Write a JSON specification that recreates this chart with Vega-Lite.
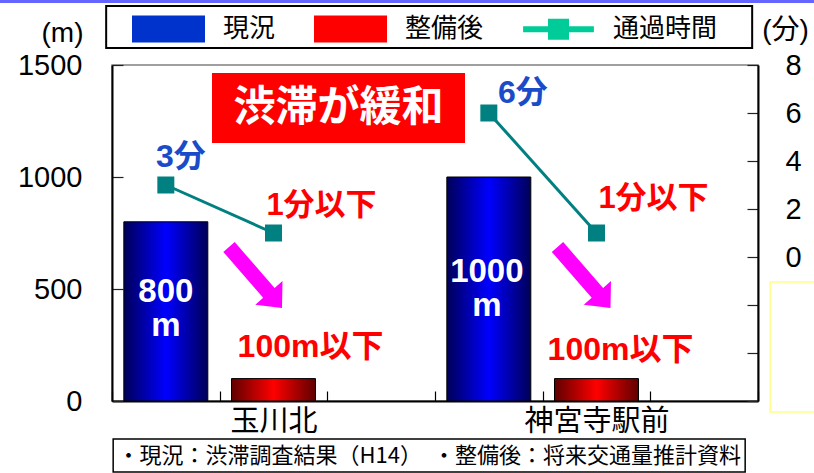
{
  "$schema": "https://vega.github.io/schema/vega-lite/v6.json",
  "width": 646,
  "height": 336,
  "autosize": "none",
  "padding": {"left": 112, "top": 65, "right": 56, "bottom": 72},
  "background": "white",
  "config": {
    "view": {"stroke": "#808080", "strokeWidth": 1.5},
    "axis": {"domainColor": "black", "domainWidth": 2, "tickColor": "#222222", "tickWidth": 1.2, "labelColor": "black", "titleColor": "black", "grid": false}
  },
  "datasets": {
    "bars": [
      {"key": "玉川北 現況", "site": "玉川北", "status": "現況", "length": 800, "minutes": 3},
      {"key": "玉川北 整備後", "site": "玉川北", "status": "整備後", "length": 100, "minutes": 1},
      {"key": "神宮寺駅前 現況", "site": "神宮寺駅前", "status": "現況", "length": 1000, "minutes": 6},
      {"key": "神宮寺駅前 整備後", "site": "神宮寺駅前", "status": "整備後", "length": 100, "minutes": 1}
    ],
    "one": [{"n": 1}]
  },
  "data": {"name": "bars"},
  "layer": [
    {
      "layer": [
        {
          "transform": [{"filter": "datum.status === '現況'"}],
          "mark": {"type": "bar", "width": {"band": 0.78}, "stroke": "black", "strokeWidth": 1,
            "fill": {"gradient": "linear", "x1": 0, "y1": 0, "x2": 1, "y2": 0, "stops": [{"offset": 0, "color": "#000058"}, {"offset": 0.5, "color": "#0000ff"}, {"offset": 1, "color": "#000058"}]}},
          "encoding": {
            "x": {"field": "key", "type": "nominal", "scale": {"domain": ["玉川北 現況", "玉川北 整備後", "玉川北 -", "神宮寺駅前 現況", "神宮寺駅前 整備後", "神宮寺駅前 -"], "paddingInner": 0, "paddingOuter": 0},
              "axis": {"title": null, "labelAngle": 0, "ticks": true, "tickBand": "extent", "tickSize": -10, "tickColor": "black", "labelPadding": 16, "labelFont": "Noto Sans CJK JP", "labelFontSize": 29, "labelBaseline": "top", "labelExpr": "indexof(datum.label, '整備後') >= 0 ? split(datum.label, ' ')[0] : ''"}},
            "y": {"field": "length", "type": "quantitative", "scale": {"domain": [0, 1500], "nice": false},
              "axis": {"orient": "left", "values": [0, 500, 1000, 1500], "format": "d", "tickSize": -11, "labelPadding": 41, "labelFont": "Liberation Sans", "labelFontSize": 29, "labelBaseline": "middle", "title": "(m)", "titleAngle": 0, "titleX": -50, "titleY": -32, "titleAlign": "center", "titleBaseline": "middle", "titleFont": "Liberation Sans", "titleFontSize": 28, "titleFontWeight": "normal"}}
          }
        },
        {
          "transform": [{"filter": "datum.status === '整備後'"}],
          "mark": {"type": "bar", "width": {"band": 0.78}, "stroke": "black", "strokeWidth": 1,
            "fill": {"gradient": "linear", "x1": 0, "y1": 0, "x2": 1, "y2": 0, "stops": [{"offset": 0, "color": "#600000"}, {"offset": 0.5, "color": "#ff0000"}, {"offset": 1, "color": "#600000"}]}},
          "encoding": {
            "x": {"field": "key", "type": "nominal"},
            "y": {"field": "length", "type": "quantitative"}
          }
        },
        {
          "mark": {"type": "point", "opacity": 0, "size": 1, "filled": true},
          "encoding": {
            "x": {"field": "key", "type": "nominal"},
            "y": {"field": "length", "type": "quantitative"},
            "color": {
              "field": "status", "type": "nominal",
              "scale": {"domain": ["現況", "整備後", "通過時間"], "range": ["#0033cc", "#ff0000", "#00cc99"]},
              "legend": {
                "orient": "none", "legendX": 20, "legendY": -73, "direction": "horizontal", "title": null, "padding": 0,
                "symbolSize": 5329, "symbolType": "M-1,-0.37H1V0.37H-1Z", "symbolStrokeWidth": 0,
                "labelFont": "Noto Sans CJK JP", "labelFontSize": 26, "labelColor": "black", "labelOffset": 18, "columnPadding": 38, "labelLimit": 200,
                "encode": {
                  "symbols": {
                    "update": {
                      "shape": {"signal": "datum.value === '通過時間' ? 'M-0.97,-0.082H0.97V0.082H-0.97Z M-0.288,-0.288H0.288V0.288H-0.288Z' : 'M-1,-0.37H1V0.37H-1Z'"},
                      "fill": {"signal": "datum.value === '現況' ? {gradient: 'linear', x1: 0, y1: 0, x2: 1, y2: 0, stops: [{offset: 0, color: '#0a1464'}, {offset: 0.5, color: '#0033cc'}, {offset: 0.85, color: '#0033cc'}, {offset: 1, color: '#001a80'}]} : datum.value === '整備後' ? {gradient: 'linear', x1: 0, y1: 0, x2: 1, y2: 0, stops: [{offset: 0, color: '#800000'}, {offset: 0.6, color: '#ff0000'}, {offset: 1, color: '#7a0000'}]} : '#00cc99'"},
                      "opacity": {"value": 1},
                      "fillOpacity": {"value": 1},
                      "stroke": {"value": "transparent"}
                    }
                  }
                }
              }
            }
          }
        },
        {
          "data": {"name": "one"},
          "mark": {"type": "point", "shape": "M-1,-0.0037H1V0.0037H-1Z", "size": 662596, "filled": true, "color": "#6464ff", "strokeWidth": 0, "opacity": 1, "xOffset": 25.8, "yOffset": -63.5},
          "encoding": {"x": {"datum": "玉川北 -", "type": "nominal"}, "y": {"datum": 1500, "type": "quantitative"}}
        },
        {
          "data": {"name": "one"},
          "mark": {"type": "point", "shape": "M-1,-0.065H1V0.065H-1Z", "size": 417316, "filled": false, "color": "black", "strokeWidth": 2, "opacity": 1, "xOffset": 48, "yOffset": -38},
          "encoding": {"x": {"datum": "玉川北 -", "type": "nominal"}, "y": {"datum": 1500, "type": "quantitative"}}
        },
        {
          "data": {"name": "one"},
          "mark": {"type": "point", "shape": "M-1,-0.0522H1V0.0522H-1Z", "size": 399424, "filled": true, "fill": "white", "stroke": "black", "strokeWidth": 1.5, "opacity": 1, "xOffset": 48, "yOffset": 54.5},
          "encoding": {"x": {"datum": "玉川北 -", "type": "nominal"}, "y": {"datum": 0, "type": "quantitative"}}
        },
        {
          "data": {"name": "one"},
          "mark": {"type": "text", "text": "・現況：渋滞調査結果（H14）　・整備後：将来交通量推計資料", "font": "Noto Sans CJK JP", "fontSize": 22, "color": "black", "align": "center", "baseline": "middle", "dx": 48, "dy": 55},
          "encoding": {"x": {"datum": "玉川北 -", "type": "nominal"}, "y": {"datum": 0, "type": "quantitative"}}
        },
        {
          "data": {"name": "one"},
          "mark": {"type": "point", "shape": "M-1,-0.2767H1V0.2767H-1Z", "size": 64009, "filled": true, "color": "#ff0000", "strokeWidth": 0, "opacity": 1, "xOffset": 65},
          "encoding": {"x": {"datum": "玉川北 整備後", "type": "nominal"}, "y": {"datum": 1308, "type": "quantitative"}}
        },
        {
          "data": {"name": "one"},
          "mark": {"type": "text", "text": "渋滞が緩和", "font": "Noto Sans CJK JP", "fontSize": 42, "fontWeight": "bold", "color": "white", "align": "center", "baseline": "middle", "dx": 65},
          "encoding": {"x": {"datum": "玉川北 整備後", "type": "nominal"}, "y": {"datum": 1308, "type": "quantitative"}}
        },
        {
          "data": {"name": "one"},
          "mark": {"type": "point", "shape": "M-0.509,-0.938L0.665,0.412L0.897,0.209L0.882,1L0.097,0.903L0.329,0.7L-0.844,-0.65Z", "size": 4624, "filled": true, "color": "#ff00ff", "strokeWidth": 0, "opacity": 1, "xOffset": -21.5},
          "encoding": {"x": {"datum": "玉川北 整備後", "type": "nominal"}, "y": {"datum": 567, "type": "quantitative"}}
        },
        {
          "data": {"name": "one"},
          "mark": {"type": "point", "shape": "M-0.509,-0.938L0.665,0.412L0.897,0.209L0.882,1L0.097,0.903L0.329,0.7L-0.844,-0.65Z", "size": 4624, "filled": true, "color": "#ff00ff", "strokeWidth": 0, "opacity": 1, "xOffset": -16},
          "encoding": {"x": {"datum": "神宮寺駅前 整備後", "type": "nominal"}, "y": {"datum": 567, "type": "quantitative"}}
        },
        {
          "data": {"name": "one"},
          "mark": {"type": "text", "text": "800", "font": "Liberation Sans", "fontSize": 33, "fontWeight": "bold", "color": "white", "align": "center", "baseline": "middle", "dy": 70},
          "encoding": {"x": {"datum": "玉川北 現況", "type": "nominal"}, "y": {"datum": 800, "type": "quantitative"}}
        },
        {
          "data": {"name": "one"},
          "mark": {"type": "text", "text": "m", "font": "Liberation Sans", "fontSize": 33, "fontWeight": "bold", "color": "white", "align": "center", "baseline": "middle", "dy": 104},
          "encoding": {"x": {"datum": "玉川北 現況", "type": "nominal"}, "y": {"datum": 800, "type": "quantitative"}}
        },
        {
          "data": {"name": "one"},
          "mark": {"type": "text", "text": "1000", "font": "Liberation Sans", "fontSize": 33, "fontWeight": "bold", "color": "white", "align": "center", "baseline": "middle", "dy": 95, "dx": -2},
          "encoding": {"x": {"datum": "神宮寺駅前 現況", "type": "nominal"}, "y": {"datum": 1000, "type": "quantitative"}}
        },
        {
          "data": {"name": "one"},
          "mark": {"type": "text", "text": "m", "font": "Liberation Sans", "fontSize": 33, "fontWeight": "bold", "color": "white", "align": "center", "baseline": "middle", "dy": 129, "dx": -2},
          "encoding": {"x": {"datum": "神宮寺駅前 現況", "type": "nominal"}, "y": {"datum": 1000, "type": "quantitative"}}
        },
        {
          "data": {"name": "one"},
          "mark": {"type": "text", "text": "100m以下", "font": "Liberation Sans, Noto Sans CJK JP", "fontSize": 32, "fontWeight": "bold", "color": "#ff0000", "align": "center", "baseline": "middle", "dx": 37, "dy": -32},
          "encoding": {"x": {"datum": "玉川北 整備後", "type": "nominal"}, "y": {"datum": 100, "type": "quantitative"}}
        },
        {
          "data": {"name": "one"},
          "mark": {"type": "text", "text": "100m以下", "font": "Liberation Sans, Noto Sans CJK JP", "fontSize": 32, "fontWeight": "bold", "color": "#ff0000", "align": "center", "baseline": "middle", "dx": 24, "dy": -29},
          "encoding": {"x": {"datum": "神宮寺駅前 整備後", "type": "nominal"}, "y": {"datum": 100, "type": "quantitative"}}
        }
      ]
    },
    {
      "layer": [
        {
          "mark": {"type": "line", "color": "#008080", "strokeWidth": 3},
          "encoding": {
            "x": {"field": "key", "type": "nominal"},
            "y": {"field": "minutes", "type": "quantitative", "scale": {"domain": [-6, 8], "nice": false, "zero": false},
              "axis": {"orient": "right", "values": [-6, -4, -2, 0, 2, 4, 6, 8], "labelExpr": "datum.value >= 0 ? datum.label : ''", "tickSize": -11, "labelPadding": 38, "labelFont": "Liberation Sans", "labelFontSize": 29, "labelAlign": "left", "labelBaseline": "middle", "title": "(分)", "titleAngle": 0, "titleX": 27, "titleY": -35, "titleAlign": "center", "titleBaseline": "middle", "titleFont": "Liberation Sans, Noto Sans CJK JP", "titleFontSize": 28, "titleFontWeight": "normal"}},
            "detail": {"field": "site", "type": "nominal"}
          }
        },
        {
          "mark": {"type": "point", "shape": "square", "filled": true, "size": 289, "color": "#008080", "opacity": 1},
          "encoding": {
            "x": {"field": "key", "type": "nominal"},
            "y": {"field": "minutes", "type": "quantitative"}
          }
        },
        {
          "data": {"name": "one"},
          "mark": {"type": "text", "text": "3分", "font": "Liberation Sans, Noto Sans CJK JP", "fontSize": 32, "fontWeight": "bold", "color": "#1a4bc8", "align": "center", "baseline": "middle", "dx": 15, "dy": -28},
          "encoding": {"x": {"datum": "玉川北 現況", "type": "nominal"}, "y": {"datum": 3, "type": "quantitative"}}
        },
        {
          "data": {"name": "one"},
          "mark": {"type": "text", "text": "1分以下", "font": "Liberation Sans, Noto Sans CJK JP", "fontSize": 31, "fontWeight": "bold", "color": "#ff0000", "align": "center", "baseline": "middle", "dx": 48, "dy": -27},
          "encoding": {"x": {"datum": "玉川北 整備後", "type": "nominal"}, "y": {"datum": 1, "type": "quantitative"}}
        },
        {
          "data": {"name": "one"},
          "mark": {"type": "text", "text": "6分", "font": "Liberation Sans, Noto Sans CJK JP", "fontSize": 32, "fontWeight": "bold", "color": "#1a4bc8", "align": "center", "baseline": "middle", "dx": 34, "dy": -20},
          "encoding": {"x": {"datum": "神宮寺駅前 現況", "type": "nominal"}, "y": {"datum": 6, "type": "quantitative"}}
        },
        {
          "data": {"name": "one"},
          "mark": {"type": "text", "text": "1分以下", "font": "Liberation Sans, Noto Sans CJK JP", "fontSize": 31, "fontWeight": "bold", "color": "#ff0000", "align": "center", "baseline": "middle", "dx": 57, "dy": -34},
          "encoding": {"x": {"datum": "神宮寺駅前 整備後", "type": "nominal"}, "y": {"datum": 1, "type": "quantitative"}}
        },
        {
          "data": {"name": "one"},
          "mark": {"type": "point", "shape": "M-0.4615,-1H0.4615V1H-0.4615Z", "size": 16900, "filled": false, "color": "#ffff88", "strokeWidth": 1.5, "opacity": 1, "xOffset": 96},
          "encoding": {"x": {"datum": "神宮寺駅前 -", "type": "nominal"}, "y": {"datum": -3.75, "type": "quantitative"}}
        }
      ]
    }
  ],
  "resolve": {"scale": {"y": "independent"}}
}
